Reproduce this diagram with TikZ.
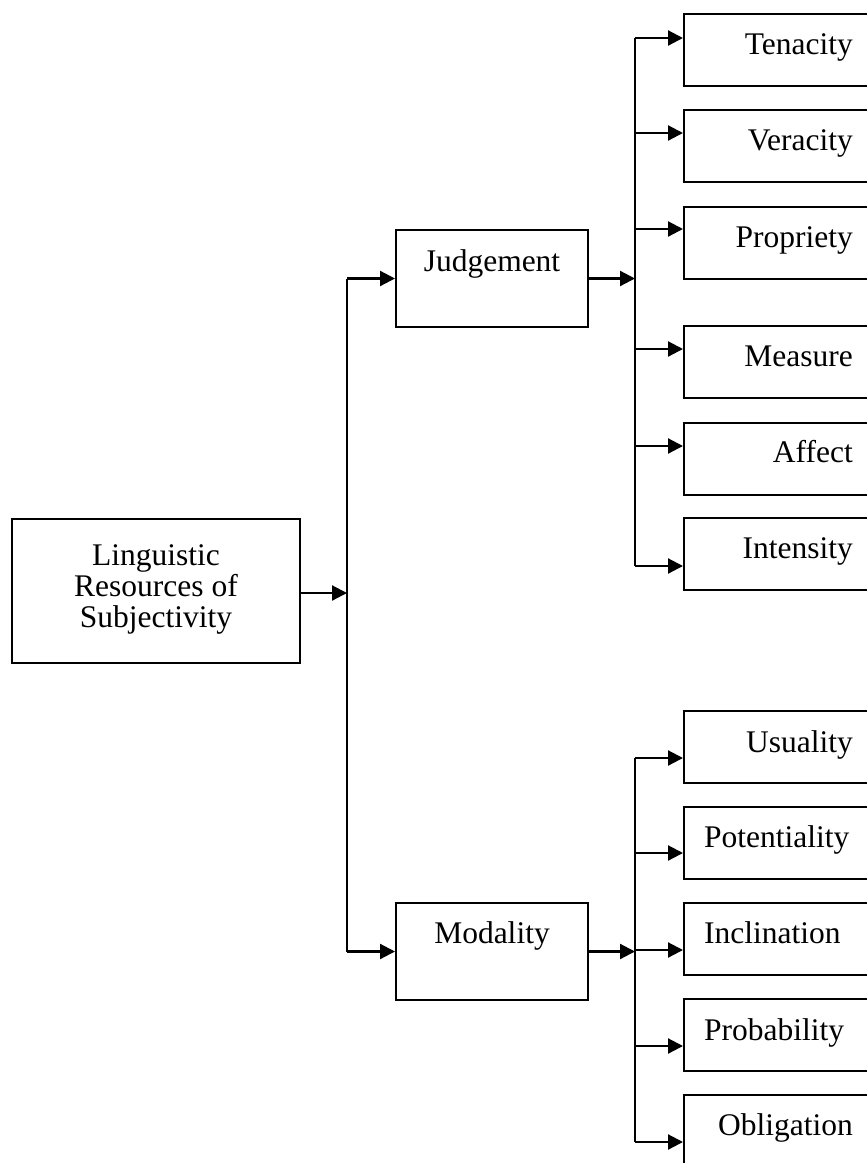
\documentclass[tikz,border=0pt]{standalone}
\usepackage{fontspec}
\setmainfont{Liberation Serif}
\usetikzlibrary{arrows.meta,calc}
\begin{document}
\begin{tikzpicture}[x=1pt,y=-1pt,
  box/.style={draw, line width=2pt, inner sep=0pt},
  leaf/.style={box, anchor=north west, minimum width=197pt, minimum height=72pt},
  mid/.style={box, anchor=north west, minimum width=192pt, minimum height=97pt},
  lbl/.style={font=\fontsize{31.5}{31}\selectfont, inner sep=0pt},
  conn/.style={line width=2.2pt},
  arr/.style={conn, -{Triangle[length=15pt,width=15pt]}}]
\useasboundingbox (0,0) rectangle (867,1163);
\clip (0,0) rectangle (867,1163);

% root
\node[box, anchor=north west, minimum width=288pt, minimum height=144pt] (root) at (11,518) {};
\node[lbl, align=center, anchor=center] (troot) at ($(root.center)+(0,-2)$) {Linguistic\\Resources of\\Subjectivity};

% middle boxes
\node[mid] (judg) at (395,229) {};
\node[lbl, anchor=base] (tjudg) at ($(judg.north)+(0,42)$) {Judgement};
\node[mid] (moda) at (395,902) {};
\node[lbl, anchor=base] (tmoda) at ($(moda.north)+(0,41)$) {Modality};

% leaves (judgement)
\node[leaf] (ten) at (683,13) {};
\node[leaf] (ver) at (683,109) {};
\node[leaf] (pro) at (683,206) {};
\node[leaf] (mea) at (683,325) {};
\node[leaf] (aff) at (683,422) {};
\node[leaf] (int) at (683,517) {};
% leaves (modality)
\node[leaf] (usu) at (683,710) {};
\node[leaf] (pot) at (683,806) {};
\node[leaf] (inc) at (683,902) {};
\node[leaf] (prb) at (683,998) {};
\node[leaf] (obl) at (683,1094) {};

% leaf texts
\node[lbl, anchor=base east] (tten) at (853,54) {Tenacity};
\node[lbl, anchor=base east] (tver) at (853,150) {Veracity};
\node[lbl, anchor=base east] (tpro) at (853,247) {Propriety};
\node[lbl, anchor=base east] (tmea) at (853,366) {Measure};
\node[lbl, anchor=base east] (taff) at (853,462) {Affect};
\node[lbl, anchor=base east] (tint) at (853,558) {Intensity};
\node[lbl, anchor=base east] (tusu) at (853,752) {Usuality};
\node[lbl, anchor=base west] (tpot) at (704,847) {Potentiality};
\node[lbl, anchor=base west] (tinc) at (704,943) {Inclination};
\node[lbl, anchor=base west] (tprb) at (704,1040) {Probability};
\node[lbl, anchor=base east] (tobl) at (853,1135) {Obligation};

% entry points on leaves
\coordinate (ten-in) at ($(ten.north west)+(0,25)$);
\coordinate (ver-in) at ($(ver.north west)+(0,24)$);
\coordinate (pro-in) at ($(pro.north west)+(0,23)$);
\coordinate (mea-in) at ($(mea.north west)+(0,24)$);
\coordinate (aff-in) at ($(aff.north west)+(0,24)$);
\coordinate (int-in) at ($(int.north west)+(0,49)$);
\coordinate (usu-in) at ($(usu.north west)+(0,48)$);
\coordinate (pot-in) at ($(pot.north west)+(0,47)$);
\coordinate (inc-in) at ($(inc.north west)+(0,48)$);
\coordinate (prb-in) at ($(prb.north west)+(0,48)$);
\coordinate (obl-in) at ($(obl.north west)+(0,48)$);

% buses
\coordinate (trunk) at (347,593);
\coordinate (jbus) at (635,0);
\coordinate (mbus) at (635,0);

% root -> trunk
\draw[arr] (root.east |- trunk) -- (trunk);
\draw[conn] (trunk |- judg.west) -- (trunk |- moda.west);
\draw[arr] (trunk |- judg.west) -- (judg.west);
\draw[arr] (trunk |- moda.west) -- (moda.west);

% judgement -> leaves
\draw[arr] (judg.east) -- (jbus |- judg.east);
\draw[conn] (jbus |- ten-in) -- (jbus |- int-in);
\foreach \n in {ten,ver,pro,mea,aff,int}
  \draw[arr] (jbus |- \n-in) -- (\n-in);

% modality -> leaves
\draw[arr] (moda.east) -- (mbus |- moda.east);
\draw[conn] (mbus |- usu-in) -- (mbus |- obl-in);
\foreach \n in {usu,pot,inc,prb,obl}
  \draw[arr] (mbus |- \n-in) -- (\n-in);
\end{tikzpicture}
\end{document}
